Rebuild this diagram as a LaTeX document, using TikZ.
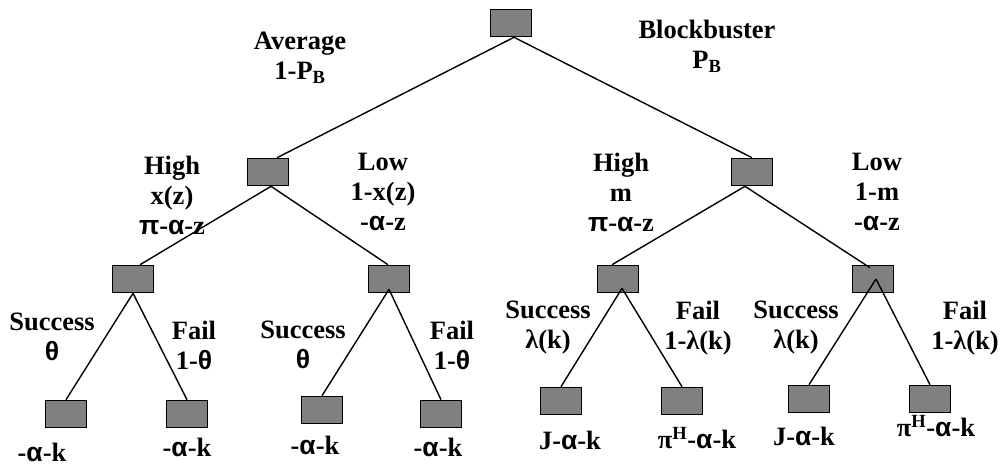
\documentclass[tikz,border=0pt]{standalone}
\usepackage{fontspec}
\setmainfont{Liberation Serif}
\setsansfont{Liberation Sans}
\newcommand{\myal}{\textsf{α}}
\newcommand{\myth}{\textsf{θ}}
\newcommand{\mypi}{\textsf{π}}
\definecolor{boxgray}{RGB}{128,128,128}
\tikzset{
  dbox/.style={draw=black, fill=boxgray, line width=1.6pt, minimum width=41pt, minimum height=27pt, inner sep=0pt},
  lbl/.style={align=center, font=\fontsize{26.5}{30}\selectfont\bfseries, inner sep=0pt},
  edge/.style={line width=1.4pt}
}
\begin{document}
\begin{tikzpicture}[x=1pt,y=-1pt]
\useasboundingbox (0,0) rectangle (1001,467);
% boxes
\node[dbox] (root) at (511,23) {};
\node[dbox] (L) at (268,172) {};
\node[dbox] (R) at (752,172) {};
\node[dbox] (A) at (133,279) {};
\node[dbox] (B) at (389,279) {};
\node[dbox] (C) at (618,279) {};
\node[dbox] (D) at (873,279) {};
\node[dbox] (a1) at (66,414) {};
\node[dbox] (a2) at (187,414) {};
\node[dbox] (b1) at (322,410) {};
\node[dbox] (b2) at (441,414) {};
\node[dbox] (c1) at (561,401) {};
\node[dbox] (c2) at (682,401) {};
\node[dbox] (d1) at (809,399) {};
\node[dbox] (d2) at (930,399) {};
% edges
\draw[edge] ([xshift=3pt]root.south) -- ([xshift=9pt]L.north);
\draw[edge] ([xshift=3pt]root.south) -- (R.north);
\draw[edge] ([xshift=3pt]L.south) -- ([xshift=7pt]A.north);
\draw[edge] ([xshift=3pt]L.south) -- ([xshift=-1pt]B.north);
\draw[edge] ([xshift=-7pt]R.south) -- ([xshift=-6pt]C.north);
\draw[edge] ([xshift=-7pt]R.south) -- ([xshift=-3pt,yshift=-3pt]D.north);
\draw[edge] (A.south) -- (a1.north);
\draw[edge] (A.south) -- (a2.north);
\draw[edge] ([yshift=4pt]B.south) -- (b1.north);
\draw[edge] ([yshift=4pt]B.south) -- (b2.north);
\draw[edge] ([xshift=4pt,yshift=5pt]C.south) -- (c1.north);
\draw[edge] ([xshift=4pt,yshift=5pt]C.south) -- (c2.north);
\draw[edge] ([xshift=3pt]D.center) -- (d1.north);
\draw[edge] ([xshift=3pt]D.center) -- (d2.north);
% labels
\node[lbl] (tAvg) at (300,58) {Average\\1-P\textsubscript{B}};
\node[lbl] (tBlk) at (707,46) {Blockbuster\\P\textsubscript{B}};
\node[lbl] (tH1) at (172,195) {High\\x(z)\\\mypi-\myal-z};
\node[lbl] (tL1) at (383,192) {Low\\1-x(z)\\-\myal-z};
\node[lbl] (tH2) at (621,192) {High\\m\\\mypi-\myal-z};
\node[lbl] (tL2) at (877,192) {Low\\1-m\\-\myal-z};
\node[lbl] (tS1) at (52,337) {Success\\\myth};
\node[lbl] (tF1) at (194,345) {Fail\\1-\myth};
\node[lbl] (tS2) at (303,345) {Success\\\myth};
\node[lbl] (tF2) at (452,345) {Fail\\1-\myth};
\node[lbl] (tS3) at (548,328) {Success\\λ(k)};
\node[lbl] (tF3) at (698,328) {Fail\\1-λ(k)};
\node[lbl] (tS4) at (796,328) {Success\\λ(k)};
\node[lbl] (tF4) at (965,328) {Fail\\1-λ(k)};
\node[lbl] (v1) at (42,452) {-\myal-k};
\node[lbl] (v2) at (187,447) {-\myal-k};
\node[lbl] (v3) at (315,445) {-\myal-k};
\node[lbl] (v4) at (438,447) {-\myal-k};
\node[lbl] (v5) at (570,440) {J-\myal-k};
\node[lbl] (v6) at (697,438) {π\textsuperscript{H}-\myal-k};
\node[lbl] (v7) at (804,436) {J-\myal-k};
\node[lbl] (v8) at (936,426) {π\textsuperscript{H}-\myal-k};
\end{tikzpicture}
\end{document}
